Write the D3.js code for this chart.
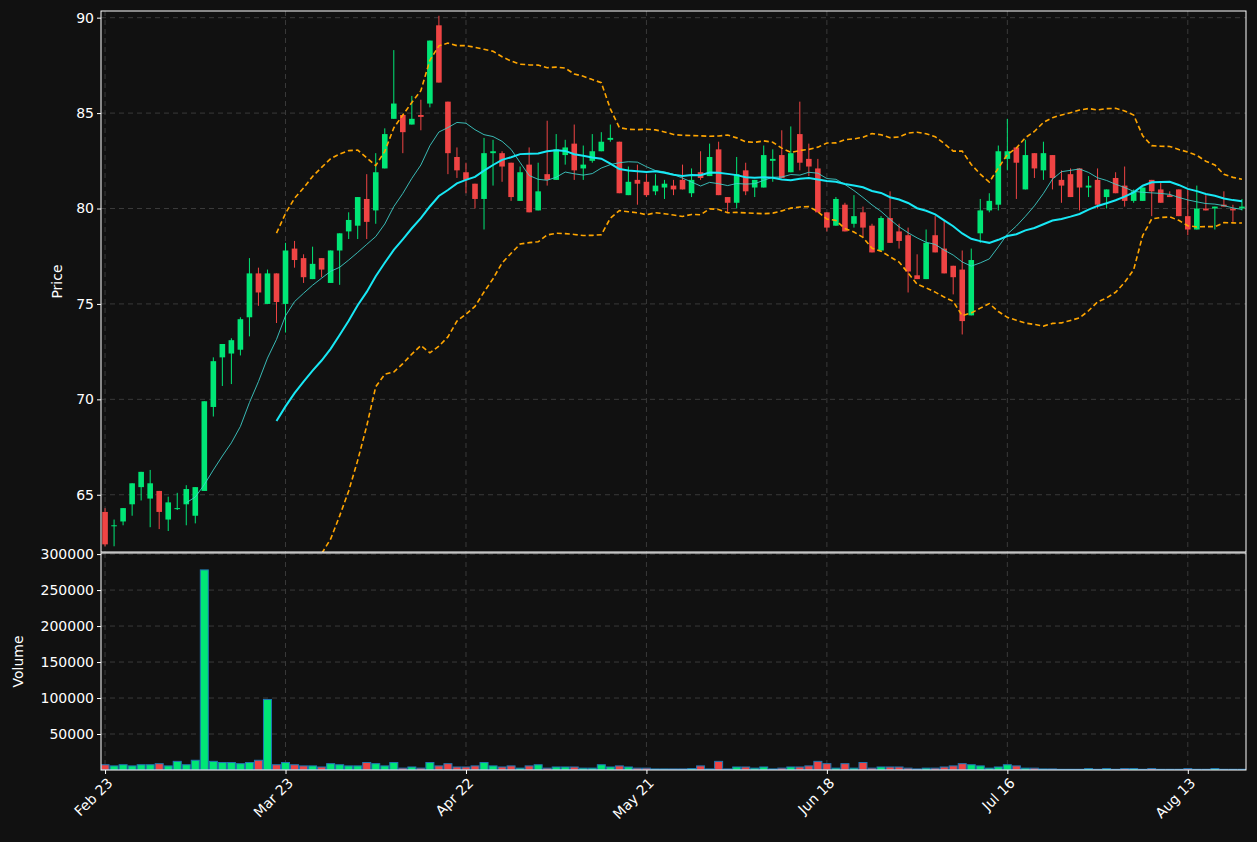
<!DOCTYPE html>
<html><head><meta charset="utf-8">
<script src="https://cdn.jsdelivr.net/npm/d3@7"></script>
<style>html,body{margin:0;padding:0;background:#111111;}svg{display:block;}</style>
</head><body><svg id="c" width="1257" height="842"></svg>
<script>
const opens  = [64.1,63.4,63.6,64.5,65.4,64.8,65.2,63.7,64.3,64.5,63.9,65.2,69.6,72.2,72.4,72.6,74.3,76.6,75.0,76.6,75.0,77.9,77.4,76.3,77.4,76.1,77.8,78.8,79.1,80.5,79.9,82.1,84.7,84.9,84.4,84.9,85.5,89.6,85.6,82.7,81.9,81.3,80.5,82.9,82.9,82.4,80.4,82.3,79.9,81.8,81.5,82.8,83.4,82.1,82.5,83.0,83.6,83.5,80.7,81.5,81.4,80.9,81.1,81.2,81.5,80.8,81.9,81.7,83.1,80.6,80.3,82.0,81.1,81.1,82.5,82.8,81.9,83.9,82.6,82.1,79.8,79.1,80.2,79.2,79.8,79.1,77.8,79.5,78.8,78.6,76.5,76.3,78.6,77.9,77.0,76.8,74.4,78.7,79.9,80.2,82.6,83.2,81.0,82.9,82.0,82.8,81.5,81.8,82.1,81.1,81.5,80.6,81.6,81.2,80.4,80.4,81.5,81.0,80.7,81.0,79.6,78.9,80.0,80.0,80.2,80.0,80.0];
const highs  = [64.3,63.7,64.3,65.6,66.2,66.3,65.2,64.9,65.1,65.5,65.4,69.9,72.2,72.9,73.2,74.3,77.4,76.9,76.8,76.6,78.2,78.3,77.6,78.0,77.4,77.8,78.7,79.8,80.6,81.8,82.9,84.2,88.3,84.9,85.9,85.7,88.8,90.1,85.6,83.2,82.4,81.3,83.7,83.6,83.0,82.4,82.2,83.2,82.4,84.6,83.9,83.6,84.4,83.3,83.9,84.0,84.4,83.5,82.2,82.3,81.8,81.8,81.5,81.5,82.3,82.1,83.0,83.4,83.5,80.6,82.7,82.4,81.5,83.3,83.1,84.1,84.3,85.6,83.4,82.6,79.8,80.6,80.3,80.7,80.1,79.2,79.6,80.9,79.2,79.0,77.6,78.9,79.6,79.4,77.0,77.8,77.9,80.5,80.8,83.3,84.7,83.2,83.6,82.9,83.5,82.8,82.0,82.1,82.1,81.7,82.1,81.0,81.9,82.2,81.0,81.1,81.5,81.4,80.9,81.0,81.0,81.2,80.7,80.1,80.9,80.2,80.5];
const lows   = [62.3,62.3,63.4,63.9,64.7,63.3,63.2,63.1,64.2,63.4,63.5,65.2,69.1,70.7,70.8,72.3,73.3,74.9,75.0,74.0,73.5,76.9,76.1,76.3,76.4,76.1,76.0,78.4,78.4,78.4,79.2,82.1,84.7,82.9,84.4,84.1,85.3,86.6,81.8,81.6,80.8,80.0,78.9,81.2,81.4,80.4,80.4,79.8,79.9,81.2,81.5,82.3,81.5,81.5,82.4,83.0,83.5,80.8,80.7,80.2,80.6,80.7,80.5,80.7,81.0,80.6,81.5,81.7,80.7,79.8,80.0,80.7,80.6,81.1,81.4,81.6,81.9,82.0,81.7,79.8,78.8,79.1,78.8,79.0,78.5,77.7,77.8,78.2,77.9,75.6,76.3,76.3,77.7,76.6,75.5,73.4,74.4,78.2,79.8,79.9,82.0,80.5,81.0,81.6,81.5,81.0,80.3,80.6,79.9,80.6,80.0,80.0,80.8,80.1,80.3,80.4,79.6,80.3,80.6,79.6,78.6,78.9,79.9,78.9,80.1,79.3,79.9];
const closes = [62.4,63.4,64.3,65.6,66.2,65.6,64.1,64.6,64.3,65.3,65.4,69.9,72.0,72.9,73.1,74.2,76.6,75.6,76.6,75.1,77.8,77.3,76.4,77.1,76.8,77.8,78.7,79.4,80.6,79.3,81.9,83.9,85.5,84.0,84.7,84.8,88.8,86.6,82.9,82.0,81.5,80.5,82.9,83.0,82.2,80.6,81.9,79.8,80.9,81.5,83.1,83.2,82.0,82.3,83.0,83.5,83.7,80.8,81.4,81.3,80.7,81.2,81.3,81.0,81.0,81.5,81.6,82.7,80.7,80.3,81.8,80.9,81.5,82.8,82.6,81.6,82.9,82.4,82.2,79.8,79.0,80.5,78.8,79.6,79.0,77.7,79.5,78.2,78.3,76.7,76.3,78.2,77.7,76.6,76.4,74.1,77.3,79.9,80.4,83.0,83.0,82.4,82.8,82.1,82.9,81.6,81.2,80.6,81.1,81.2,80.2,81.0,80.8,80.4,80.9,81.1,80.9,80.3,80.6,79.6,78.9,80.0,79.9,80.1,80.1,79.9,80.1];
const volumes = [7300,5700,7300,5700,7300,7300,8800,5700,12000,7300,13500,278000,12000,10400,10400,8800,10400,13500,98000,7300,10400,7300,5700,5700,4200,8800,7300,5700,5700,10400,8800,5700,10400,2600,4200,2600,10400,5700,8800,4200,4200,5700,10400,5700,4200,5700,2600,5700,7300,2600,4200,4200,4200,2600,2600,7300,4200,5700,4200,2600,2600,1500,1500,1500,1500,2000,5700,1500,12000,1500,4200,4200,2600,4200,1500,2600,4200,4200,5700,12000,8800,2600,8800,2600,10400,2600,4200,4200,4200,2600,1500,2600,2600,4200,5700,8800,7300,5700,2600,4200,7300,5700,2600,2600,1500,1500,1000,1000,1000,2000,1000,2000,1000,2000,2000,1000,2000,1000,1000,1000,2000,1000,1000,2000,1000,1000,1000];
const tickIdx = [0,20,40,60,80,100,120];
const tickLabels = ["Feb 23","Mar 23","Apr 22","May 21","Jun 18","Jul 16","Aug 13"];
const priceTicks = [65,70,75,80,85,90];
const volTicks = [50000,100000,150000,200000,250000,300000];

const svg = d3.select("#c");
const L=101,R=1246,PT=11,PB=552,VT=553,VB=770;
const UP="#00e676", DN="#ef4444";
const n = closes.length;
const x = d3.scaleLinear().domain([-0.45,126.45]).range([L,R]);
const y = d3.scaleLinear().domain([62.0,90.35]).range([PB,PT]);
const yv = d3.scaleLinear().domain([0,301500]).range([VB,VT]);

function sma(p){return closes.map((c,i)=>i<p-1?null:d3.mean(closes.slice(i-p+1,i+1)));}
function sd(p){return closes.map((c,i)=>{if(i<p-1)return null;const s=closes.slice(i-p+1,i+1);const m=d3.mean(s);return Math.sqrt(d3.mean(s.map(v=>(v-m)*(v-m))));});}
const ma10=sma(10), ma20=sma(20), sd20=sd(20);
const up=ma20.map((m,i)=>m==null?null:m+2*sd20[i]);
const lo=ma20.map((m,i)=>m==null?null:m-2*sd20[i]);

const defs=svg.append("defs");
defs.append("clipPath").attr("id","cp").append("rect").attr("x",L).attr("y",PT).attr("width",R-L).attr("height",PB-PT);
defs.append("clipPath").attr("id","cv").append("rect").attr("x",L).attr("y",VT).attr("width",R-L).attr("height",VB-VT);

// grids
const g=svg.append("g").attr("stroke","#3a3a3a").attr("stroke-dasharray","5,4").attr("stroke-width",1);
priceTicks.forEach(t=>g.append("line").attr("x1",L).attr("x2",R).attr("y1",y(t)).attr("y2",y(t)));
volTicks.forEach(t=>g.append("line").attr("x1",L).attr("x2",R).attr("y1",yv(t)).attr("y2",yv(t)));
tickIdx.forEach(t=>{g.append("line").attr("x1",x(t)).attr("x2",x(t)).attr("y1",PT).attr("y2",PB);g.append("line").attr("x1",x(t)).attr("x2",x(t)).attr("y1",VT).attr("y2",VB);});

// candles
const pc=svg.append("g").attr("clip-path","url(#cp)");
const idx=d3.range(n);
pc.selectAll(".w").data(idx).join("line").attr("x1",i=>x(i)).attr("x2",i=>x(i)).attr("y1",i=>y(highs[i])).attr("y2",i=>y(lows[i])).attr("stroke",i=>closes[i]>=opens[i]?UP:DN).attr("stroke-width",1);
const bw=5.6;
pc.selectAll(".b").data(idx).join("rect").attr("x",i=>x(i)-bw/2).attr("width",bw).attr("y",i=>y(Math.max(opens[i],closes[i]))).attr("height",i=>Math.max(1,Math.abs(y(opens[i])-y(closes[i])))).attr("fill",i=>closes[i]>=opens[i]?UP:DN);

const line=d3.line().defined(d=>d[1]!=null).x(d=>x(d[0])).y(d=>y(d[1]));
const path=(arr,st,w,dash,op)=>pc.append("path").attr("d",line(arr.map((v,i)=>[i,v]))).attr("fill","none").attr("stroke",st).attr("stroke-width",w).attr("stroke-dasharray",dash).attr("opacity",op);
path(up,"#ffa500",1.6,"5,3",1);
path(lo,"#ffa500",1.6,"5,3",1);
path(ma10,"#3fd6d0",1,null,0.85);
path(ma20,"#18e8f5",2,null,1);

// volume
const vc=svg.append("g").attr("clip-path","url(#cv)");
const vw=8;
vc.selectAll(".v").data(idx).join("rect").attr("x",i=>x(i)-vw/2).attr("width",vw).attr("y",i=>yv(volumes[i])).attr("height",i=>VB-yv(volumes[i])).attr("fill",i=>closes[i]>=opens[i]?UP:DN).attr("stroke","#1f77b4").attr("stroke-width",1);

// frames
svg.append("rect").attr("x",L).attr("y",PT).attr("width",R-L).attr("height",PB-PT).attr("fill","none").attr("stroke","#ffffff").attr("stroke-width",1);
svg.append("rect").attr("x",L).attr("y",VT).attr("width",R-L).attr("height",VB-VT).attr("fill","none").attr("stroke","#ffffff").attr("stroke-width",1);

// axes
const yAx=d3.axisLeft(y).tickValues(priceTicks).tickSize(4).tickPadding(3);
const ga=svg.append("g").attr("transform",`translate(${L},0)`).call(yAx);
const yvAx=d3.axisLeft(yv).tickValues(volTicks).tickSize(4).tickPadding(3).tickFormat(d3.format("d"));
const gb=svg.append("g").attr("transform",`translate(${L},0)`).call(yvAx);
const xAx=d3.axisBottom(x).tickValues(tickIdx).tickFormat((d,i)=>tickLabels[i]).tickSize(4);
const gc=svg.append("g").attr("transform",`translate(0,${VB})`).call(xAx);
gc.selectAll("text").attr("transform","rotate(-45)").style("text-anchor","end").attr("dx","-0.3em").attr("dy","0.6em");
[ga,gb,gc].forEach(a=>{a.select(".domain").remove();a.selectAll("line").attr("stroke","#ffffff");a.selectAll("text").attr("fill","#ffffff").style("font-family","DejaVu Sans").style("font-size","14px");});

svg.append("text").attr("transform",`translate(62,${(PT+PB)/2}) rotate(-90)`).attr("text-anchor","middle").attr("fill","#fff").style("font-family","DejaVu Sans").style("font-size","14px").text("Price");
svg.append("text").attr("transform",`translate(23,${(VT+VB)/2}) rotate(-90)`).attr("text-anchor","middle").attr("fill","#fff").style("font-family","DejaVu Sans").style("font-size","14px").text("Volume");
</script></body></html>
